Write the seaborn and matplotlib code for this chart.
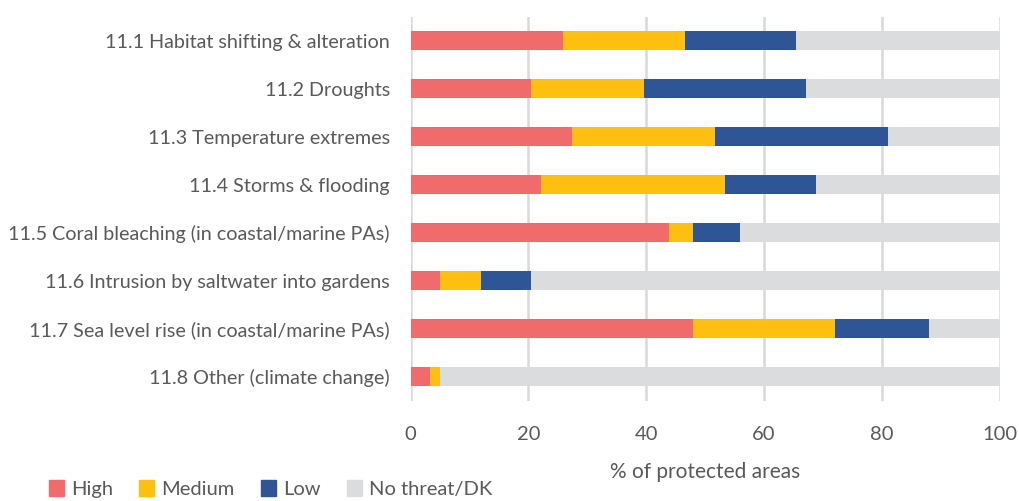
import numpy as np
import pandas as pd
import matplotlib.pyplot as plt
import seaborn as sns
from matplotlib.patches import Patch

# threat categories (top to bottom)
categories = [
    '11.1 Habitat shifting & alteration',
    '11.2 Droughts',
    '11.3 Temperature extremes',
    '11.4 Storms & flooding',
    '11.5 Coral bleaching (in coastal/marine PAs)',
    '11.6 Intrusion by saltwater into gardens',
    '11.7 Sea level rise (in coastal/marine PAs)',
    '11.8 Other (climate change)',
]
high = [25.8, 20.5, 27.4, 22.2, 43.8, 5.0, 47.9, 3.3]
medium = [20.7, 19.1, 24.2, 31.1, 4.1, 6.9, 24.1, 1.7]
low = [19.0, 27.6, 29.4, 15.6, 8.1, 8.6, 16.0, 0.0]
no_threat = [34.5, 32.8, 19.0, 31.1, 44.0, 79.5, 12.0, 95.0]

series = ['High', 'Medium', 'Low', 'No threat/DK']
colors = ['#F26B6C', '#FDC010', '#2F5597', '#DBDCDE']

df = pd.DataFrame({'category': categories, 'High': high, 'Medium': medium,
                   'Low': low, 'No threat/DK': no_threat})
cum = df[series].cumsum(axis=1)

sns.set_style('white')
plt.rcParams['font.family'] = ['Lato', 'DejaVu Sans']

fig, ax = plt.subplots(figsize=(10.19, 5.01), dpi=100)
fig.subplots_adjust(left=0.403, right=0.981, top=0.967, bottom=0.2)

# draw cumulative bars back to front so they look stacked
for s, c in reversed(list(zip(series, colors))):
    sns.barplot(x=cum[s], y=df['category'], color=c, width=0.4, orient='h',
                ax=ax, edgecolor='none', saturation=1, zorder=3)

ax.set_xlim(0, 100)
ax.set_xticks([0, 20, 40, 60, 80, 100])
ax.grid(axis='x', color='#D9D9D9', linewidth=1.8, zorder=0)
ax.grid(axis='y', visible=False)
for sp in ax.spines.values():
    sp.set_visible(False)
ax.tick_params(axis='y', length=0, pad=15, labelsize=14.2, labelcolor='#595959')
ax.tick_params(axis='x', length=0, pad=18, labelsize=14.5, labelcolor='#595959')
ax.set_ylabel('')
ax.set_xlabel('% of protected areas', fontsize=15, color='#595959', labelpad=14)

handles = [Patch(color=c, label=s) for s, c in zip(series, colors)]
fig.legend(handles=handles, loc='lower left', bbox_to_anchor=(0.03, -0.03), ncol=4,
           frameon=False, handlelength=0.75, handleheight=0.9, handletextpad=0.35,
           columnspacing=1.3, fontsize=14.5, labelcolor='#595959')

fig.savefig('out.png', dpi=100)
